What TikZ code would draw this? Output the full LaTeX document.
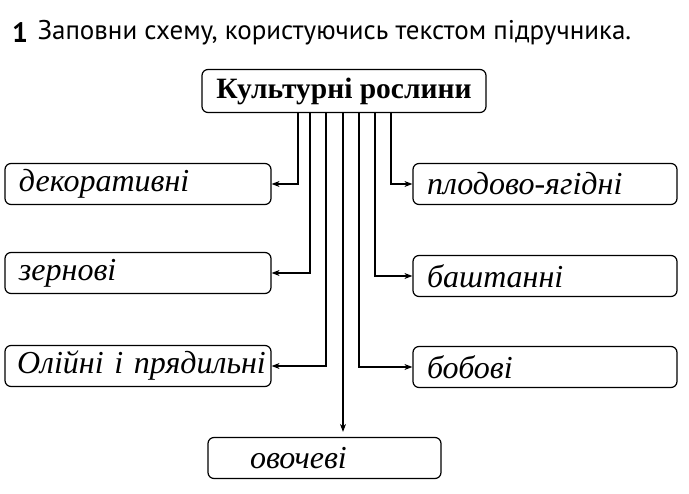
\documentclass[tikz,border=0pt]{standalone}
\usepackage{fontspec}
\setmainfont{Liberation Serif}
\newfontfamily\tasksf{PT Sans}
\usetikzlibrary{arrows.meta, calc, positioning}
\tikzset{
  headbox/.style={
    draw=black, line width=1.2pt, rounded corners=6pt,
    minimum width=284pt, minimum height=43pt, inner sep=0pt,
    font=\bfseries\fontsize{29.5}{29.5}\selectfont
  },
  plantbox/.style={
    draw=black, line width=1.2pt, rounded corners=6pt,
    minimum height=41pt, inner xsep=14pt, inner ysep=0pt,
    text width=#1, align=left,
    font=\itshape\fontsize{32}{32}\selectfont
  },
  plantbox/.default=236pt,
  branch/.style={line width=1.1pt, -{Stealth[length=8pt,width=6pt]}}
}

\begin{document}
\begin{tikzpicture}[x=1pt, y=-1pt]
  \useasboundingbox (0,0) rectangle (689,494);
  % task line
  \node[font=\tasksf\bfseries\fontsize{28}{28}\selectfont] (num) at (20,33) {1};
  \node[anchor=west, font=\tasksf\fontsize{27}{27}\selectfont] (task) at (34,33)
    {Заповни схему, користуючись текстом підручника.};
  % scheme
  \node[headbox] (crops) at (344,91) {Культурні рослини};
  \node[plantbox=238pt] (dek) at (138,184) {декоративні};
  \node[plantbox=238pt] (zer) at (138,273) {зернові};
  \node[plantbox=250pt, inner xsep=8pt] (oli) at (138,366)
    {\makebox[250pt][l]{\hspace*{4pt}Олійні і прядильні}};
  \node[plantbox] (plo) at (545,184) {плодово-ягідні};
  \node[plantbox] (bas) at (545,276) {баштанні};
  \node[plantbox] (bob) at (545,367) {бобові};
  \node[plantbox=205pt] (ovo) at (324.5,458) {\hspace*{28pt}овочеві};
  \foreach \dx/\tgt in {-46/dek, -34/zer, -18/oli, 15/bob, 31/bas, 47/plo} {
    \draw[branch] ($(crops.south)+(\dx,0)$) |- (\tgt);
  }
  \coordinate (stem) at ($(crops.south)+(-1,0)$);
  \draw[branch, shorten >=5pt] (stem) -- (stem |- ovo.north);
\end{tikzpicture}
\end{document}
